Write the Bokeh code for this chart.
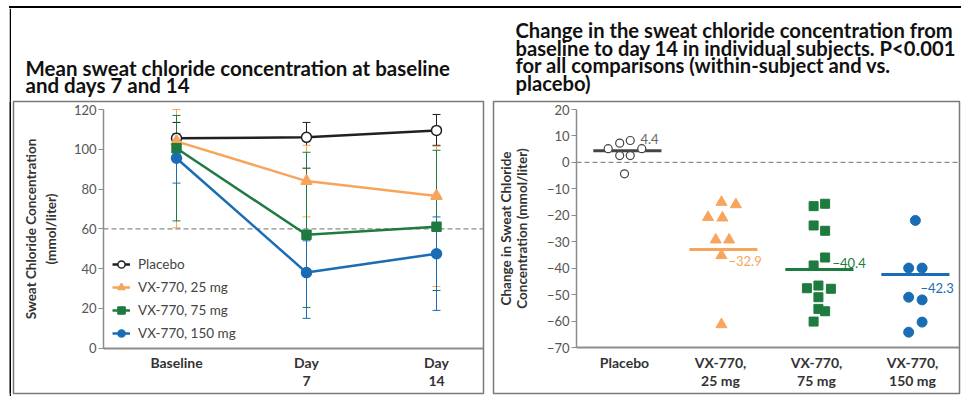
from bokeh.plotting import figure
from bokeh.models import (ColumnDataSource, Whisker, TeeHead, LinearAxis, FixedTicker,
                          Range1d, Legend, LegendItem, Title, Spacer)
from bokeh.layouts import row, column
from bokeh.embed import file_html
from bokeh.resources import INLINE
from bokeh.core.properties import value

# ---------------- data: left panel (mean sweat chloride, mmol/liter) ----------------
visit_days = [0, 7, 14]
visit_labels = ["Baseline", "Day\n7", "Day\n14"]
series_names = ["Placebo", "VX-770, 25 mg", "VX-770, 75 mg", "VX-770, 150 mg"]
placebo_mean = [105.5, 106.0, 109.5]
placebo_upper = [113.5, 113.5, 117.5]
placebo_lower = [97.5, 90.5, 102.0]
vx25_mean = [104.0, 84.0, 76.5]
vx25_upper = [120.0, 102.0, 101.5]
vx25_lower = [60.5, 66.0, 31.0]
vx75_mean = [100.5, 57.0, 61.0]
vx75_upper = [117.0, 98.5, 99.5]
vx75_lower = [64.0, 20.5, 29.0]
vx150_mean = [95.5, 38.0, 47.5]
vx150_upper = [108.0, 54.0, 66.0]
vx150_lower = [83.0, 15.0, 19.0]
cf_threshold = 60
left_y_ticks = [0, 20, 40, 60, 80, 100, 120]

# ---------------- data: right panel (change baseline -> day 14) ----------------
group_labels = ["Placebo", "VX-770,\n25 mg", "VX-770,\n75 mg", "VX-770,\n150 mg"]
placebo_change = [5.2, 7.3, 8.3, 5.2, 2.6, 2.6, -4.3]
placebo_jitter = [-0.17, -0.05, 0.06, 0.18, -0.05, 0.06, 0.0]
vx25_change = [-15.0, -15.9, -20.7, -20.9, -29.2, -29.2, -35.1, -61.2]
vx25_jitter = [0.01, 0.16, -0.13, 0.02, -0.05, 0.09, 0.01, 0.01]
vx75_change = [-16.5, -15.6, -23.8, -25.8, -35.9, -38.9, -47.5, -46.5, -47.7, -50.9, -55.3, -56.2, -60.1]
vx75_jitter = [-0.03, 0.09, -0.03, 0.09, 0.09, -0.03, -0.10, 0.02, 0.15, 0.02, 0.02, 0.09, -0.03]
vx150_change = [-21.9, -39.9, -39.9, -50.9, -51.9, -60.3, -64.1]
vx150_jitter = [0.03, -0.04, 0.10, -0.04, 0.10, 0.10, -0.04]
group_means = [4.4, -32.9, -40.4, -42.3]
right_y_ticks = [-70, -60, -50, -40, -30, -20, -10, 0, 10, 20]

left_title = "Mean sweat chloride concentration at baseline\nand days 7 and 14"
right_title = ("Change in the sweat chloride concentration from\n"
               "baseline to day 14 in individual subjects. P<0.001\n"
               "for all comparisons (within-subject and vs.\nplacebo)")

# ---------------- styles ----------------
FONT = "Lato"
BLACK = "#231f20"
ORANGE = "#f8a55c"
GREEN = "#1d7b3f"
BLUE = "#1a6db4"
AXIS_GRAY = "#8c8c8c"
BOX_GRAY = "#7a7a7a"
TICK_TXT = "#555555"
LABEL_TXT = "#333333"


def span_range(v1, p1, v2, p2, pa, pb):
    k = (v2 - v1) / (p2 - p1)
    return v1 + (pa - p1) * k, v1 + (pb - p1) * k


def minus(s):
    return s.replace("-", "\u2212")


def style_axis(ax, size="13px"):
    ax.axis_line_color = AXIS_GRAY
    ax.axis_line_width = 1.5
    ax.major_tick_line_color = AXIS_GRAY
    ax.major_tick_line_width = 1.2
    ax.minor_tick_line_color = None
    ax.major_label_text_font = FONT
    ax.major_label_text_font_size = size
    ax.major_label_text_color = TICK_TXT


def make_title(text, offset, size, line_height, standoff):
    t = Title(text=text, align="left", offset=offset, standoff=standoff,
              text_font=FONT, text_font_size=size, text_font_style="bold",
              text_color="#111111")
    try:
        t.text_line_height = line_height
    except AttributeError:
        pass
    return t


ROW_TOP = 8
ROW_H = 388

# ================= left panel =================
lx0, lx1 = span_range(0, 176, 14, 436, 13, 483)
ly0, ly1 = span_range(0, 347.7, 120, 109, 393, 101)
l_yaxis_x = (103 - 176) * 14 / 260

p1 = figure(width=477, height=ROW_H, x_range=Range1d(lx0, lx1), y_range=Range1d(ly0, ly1),
            x_axis_type=None, y_axis_type=None, output_backend="svg", toolbar_location=None,
            min_border_left=2, min_border_right=5, min_border_top=101 - ROW_TOP,
            min_border_bottom=3)
p1.title.visible = False
p1.outline_line_color = BOX_GRAY
p1.outline_line_width = 1.5
p1.border_fill_color = "white"

yax1 = LinearAxis(fixed_location=l_yaxis_x, bounds=(0, 120), ticker=FixedTicker(ticks=left_y_ticks))
style_axis(yax1)
yax1.major_tick_out = 5
yax1.major_tick_in = 0
yax1.major_label_standoff = 2
yax1.axis_label = "Sweat Chloride Concentration\n(mmol/liter)"
yax1.axis_label_text_font = FONT
yax1.axis_label_text_font_size = "13.5px"
yax1.axis_label_text_font_style = "bold"
yax1.axis_label_text_color = LABEL_TXT
yax1.axis_label_standoff = 12
yax1.axis_label_text_line_height = 1.23
p1.add_layout(yax1, "left")

xax1 = LinearAxis(fixed_location=0, bounds=(l_yaxis_x, lx1), ticker=FixedTicker(ticks=visit_days),
                  major_label_overrides={d: t for d, t in zip(visit_days, visit_labels)})
style_axis(xax1, "14px")
xax1.axis_line_width = 2
xax1.major_tick_out = 0
xax1.major_tick_in = 0
xax1.major_label_standoff = 6
xax1.major_label_text_font_style = "bold"
xax1.major_label_text_color = LABEL_TXT
xax1.major_label_text_line_height = 1.07
p1.add_layout(xax1, "below")

p1.segment(x0=[l_yaxis_x], x1=[lx1], y0=[cf_threshold], y1=[cf_threshold],
           line_color="#8a8a8a", line_width=1.3, line_dash="5 3")

series = [
    (placebo_mean, placebo_upper, placebo_lower, BLACK, "circle", 10, "white"),
    (vx25_mean, vx25_upper, vx25_lower, ORANGE, "triangle", 11, ORANGE),
    (vx75_mean, vx75_upper, vx75_lower, GREEN, "square", 9, GREEN),
    (vx150_mean, vx150_upper, vx150_lower, BLUE, "circle", 10, BLUE),
]
for mean, up, lo, col, *_ in series:
    src = ColumnDataSource(dict(x=visit_days, upper=up, lower=lo))
    p1.add_layout(Whisker(base="x", upper="upper", lower="lower", source=src, dimension="height",
                          line_color=col, line_width=1, level="underlay",
                          upper_head=TeeHead(size=8, line_color=col, line_width=1),
                          lower_head=TeeHead(size=8, line_color=col, line_width=1)))

legend_items = []
for name, (mean, up, lo, col, mk, sz, fill) in zip(series_names, series):
    lr = p1.line(visit_days, mean, line_color=col, line_width=2.5)
    sr = p1.scatter(visit_days, mean, marker=mk, size=sz, fill_color=fill, line_color=col,
                    line_width=1.5)
    legend_items.append(LegendItem(label=name, renderers=[lr, sr]))

legend = Legend(items=legend_items, location=(99, 50), padding=0, margin=0, spacing=3,
                glyph_width=18, glyph_height=20, label_height=20, label_standoff=8,
                label_text_font=FONT, label_text_font_size="13.5px", label_text_color="#444444",
                border_line_color=None, background_fill_alpha=0)
p1.add_layout(legend)
p1.add_layout(make_title(left_title, 12, "20.5px", 0.71, 8), "above")

# ================= right panel =================
rx0, rx1 = span_range(0, 624, 3, 912, 493, 959)
ry0, ry1 = span_range(20, 109, -70, 347.3, 393, 101)
r_yaxis_x = (576 - 624) / 96

p2 = figure(width=473, height=ROW_H, x_range=Range1d(rx0, rx1), y_range=Range1d(ry0, ry1),
            x_axis_type=None, y_axis_type=None, output_backend="svg", toolbar_location=None,
            min_border_left=5, min_border_right=2, min_border_top=101 - ROW_TOP,
            min_border_bottom=3)
p2.title.visible = False
p2.outline_line_color = BOX_GRAY
p2.outline_line_width = 1.5
p2.border_fill_color = "white"

yax2 = LinearAxis(fixed_location=r_yaxis_x, bounds=(-70, 20), ticker=FixedTicker(ticks=right_y_ticks),
                  major_label_overrides={t: minus(str(t)) for t in right_y_ticks})
style_axis(yax2)
yax2.major_tick_out = 5
yax2.major_tick_in = 0
yax2.major_label_standoff = 2
yax2.axis_label = "Change in Sweat Chloride\nConcentration (mmol/liter)"
yax2.axis_label_text_font = FONT
yax2.axis_label_text_font_size = "13.5px"
yax2.axis_label_text_font_style = "bold"
yax2.axis_label_text_color = LABEL_TXT
yax2.axis_label_standoff = 14
yax2.axis_label_text_line_height = 1.02
p2.add_layout(yax2, "left")

group_idx = list(range(len(group_labels)))
xax2 = LinearAxis(fixed_location=-70, bounds=(r_yaxis_x, rx1), ticker=FixedTicker(ticks=group_idx),
                  major_label_overrides={i: t for i, t in zip(group_idx, group_labels)})
style_axis(xax2, "14px")
xax2.axis_line_width = 2
xax2.major_tick_out = 0
xax2.major_tick_in = 0
xax2.major_label_standoff = 6
xax2.major_label_text_font_style = "bold"
xax2.major_label_text_color = LABEL_TXT
xax2.major_label_text_line_height = 1.07
p2.add_layout(xax2, "below")

p2.segment(x0=[r_yaxis_x], x1=[rx1], y0=[0], y1=[0],
           line_color="#8a8a8a", line_width=1.3, line_dash="5 3")

group_colors = ["#444444", ORANGE, GREEN, BLUE]
text_colors = ["#666666", ORANGE, GREEN, BLUE]
half_w = 0.355
mean_src = ColumnDataSource(dict(
    x0=[i + 0.03 - half_w for i in group_idx], x1=[i + 0.03 + half_w for i in group_idx],
    y=group_means, color=group_colors, tcolor=text_colors,
    xt=group_idx, label=[minus(f"{m:.1f}") for m in group_means],
    dx=[16, 8, 16, 8], dy=[-12, 11, -6, 14]))
p2.segment(x0="x0", x1="x1", y0="y", y1="y", line_color="color", line_width=3, source=mean_src)
p2.text(x="xt", y="y", text="label", x_offset="dx", y_offset="dy", text_color="tcolor",
        text_font=value(FONT), text_font_size="13px", text_align="left", text_baseline="middle",
        source=mean_src)

pts = [
    (placebo_change, placebo_jitter, "circle", 8, "white", "#444444", 1.2),
    (vx25_change, vx25_jitter, "triangle", 11, ORANGE, ORANGE, 1),
    (vx75_change, vx75_jitter, "square", 9, GREEN, GREEN, 1),
    (vx150_change, vx150_jitter, "circle", 10, BLUE, BLUE, 1),
]
for i, (vals, jit, mk, sz, fill, lc, lw) in enumerate(pts):
    p2.scatter([i + j for j in jit], vals, marker=mk, size=sz, fill_color=fill,
               line_color=lc, line_width=lw)

p2.add_layout(make_title(right_title, 22, "20.2px", 0.73, 13), "above")


# ================= frame lines =================
def black_bar(w, h):
    b = figure(width=w, height=h, x_axis_type=None, y_axis_type=None, output_backend="svg",
               toolbar_location=None, min_border=0, background_fill_color="black",
               border_fill_color="black")
    b.title.visible = False
    b.outline_line_color = None
    return b


top_bar = Spacer(width=952, height=2, styles={"background-color": "#000000"})
left_bar = black_bar(2, ROW_H)

layout = column(
    Spacer(width=961, height=6),
    row(Spacer(width=9, height=2), top_bar),
    row(Spacer(width=9, height=ROW_H), left_bar, p1, p2),
)

open("out.html", "w").write(file_html(layout, INLINE))
